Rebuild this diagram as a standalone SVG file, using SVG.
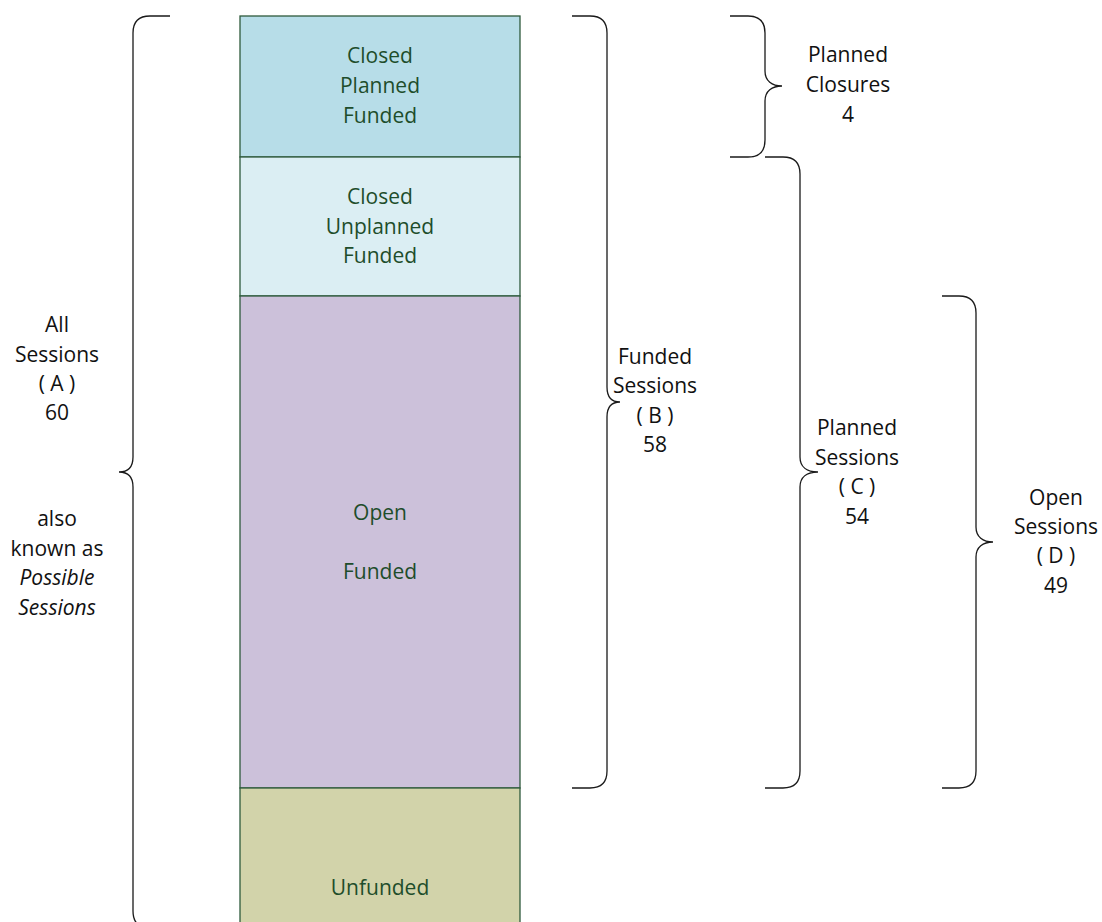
<svg xmlns="http://www.w3.org/2000/svg" width="1102" height="922" viewBox="0 0 1102 922">
<style>
.seg{stroke:#2E5A3C;stroke-width:1.3}
.in{font-family:"Open Sans","Liberation Sans",sans-serif;font-size:21px;fill:#1E4D2B;text-anchor:middle}
.out{font-family:"Open Sans","Liberation Sans",sans-serif;font-size:21px;fill:#111;text-anchor:middle}
.brace{fill:none;stroke:#1a1a1a;stroke-width:1.3}
</style>
<rect width="1102" height="922" fill="#fff"/>
<g id="closed-planned">
<rect class="seg" x="240" y="16" width="280" height="141" fill="#B7DDE8"/>
<text class="in" x="380" y="63">Closed</text>
<text class="in" x="380" y="93">Planned</text>
<text class="in" x="380" y="123">Funded</text>
</g>
<g id="closed-unplanned">
<rect class="seg" x="240" y="157" width="280" height="139" fill="#DBEEF3"/>
<text class="in" x="380" y="204">Closed</text>
<text class="in" x="380" y="234">Unplanned</text>
<text class="in" x="380" y="263">Funded</text>
</g>
<g id="open-funded">
<rect class="seg" x="240" y="296" width="280" height="492" fill="#CCC1DA"/>
<text class="in" x="380" y="520">Open</text>
<text class="in" x="380" y="579">Funded</text>
</g>
<g id="unfunded">
<rect class="seg" x="240" y="788" width="280" height="140" fill="#D2D3AA"/>
<text class="in" x="380" y="895">Unfunded</text>
</g>
<g id="connectors">
<path id="brace-a" class="brace" d="M170,16 H150 Q133,16 133,33 V457 C133,467 128,472 119,472 C128,472 133,477 133,487 V911 Q133,928 150,928 H170"/>
<path id="brace-b" class="brace" d="M572,16 H590 Q607,16 607,33 V387 C607,397 612,402 620,402 C612,402 607,407 607,417 V771 Q607,788 590,788 H572"/>
<path id="brace-pc" class="brace" d="M730,16 H748 Q765,16 765,33 V71 C765,81 772,86 782,86 C772,86 765,91 765,101 V140 Q765,157 748,157 H730"/>
<path id="brace-c" class="brace" d="M765,157 H783 Q800,157 800,174 V457 C800,467 807,472 818,472 C807,472 800,477 800,487 V771 Q800,788 783,788 H765"/>
<path id="brace-d" class="brace" d="M942,296 H959 Q976,296 976,313 V527 C976,537 983,542 993,542 C983,542 976,547 976,557 V771 Q976,788 959,788 H942"/>
</g>
<g id="label-a">
<text class="out" x="57" y="332">All</text>
<text class="out" x="57" y="362">Sessions</text>
<text class="out" x="57" y="391">( A )</text>
<text class="out" x="57" y="420">60</text>
<text class="out" x="57" y="526">also</text>
<text class="out" x="57" y="556">known as</text>
<text class="out" x="57" y="585" font-style="italic">Possible</text>
<text class="out" x="57" y="615" font-style="italic">Sessions</text>
</g>
<g id="label-b">
<text class="out" x="655" y="364">Funded</text>
<text class="out" x="655" y="393">Sessions</text>
<text class="out" x="655" y="423">( B )</text>
<text class="out" x="655" y="452">58</text>
</g>
<g id="label-pc">
<text class="out" x="848" y="62">Planned</text>
<text class="out" x="848" y="92">Closures</text>
<text class="out" x="848" y="122">4</text>
</g>
<g id="label-c">
<text class="out" x="857" y="435">Planned</text>
<text class="out" x="857" y="465">Sessions</text>
<text class="out" x="857" y="494">( C )</text>
<text class="out" x="857" y="524">54</text>
</g>
<g id="label-d">
<text class="out" x="1056" y="505">Open</text>
<text class="out" x="1056" y="534">Sessions</text>
<text class="out" x="1056" y="563">( D )</text>
<text class="out" x="1056" y="593">49</text>
</g>
</svg>
